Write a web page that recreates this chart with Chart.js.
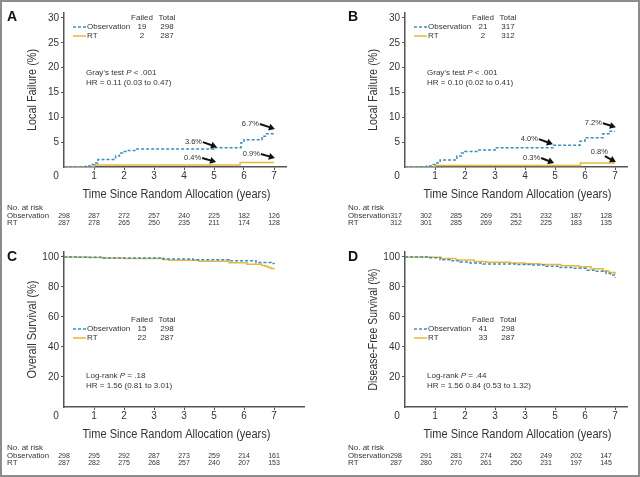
<!DOCTYPE html>
<html>
<head>
<meta charset="utf-8">
<script src="https://cdn.jsdelivr.net/npm/chart.js@4.4.0/dist/chart.umd.min.js"></script>
<style>
html, body { margin: 0; padding: 0; background: #fff; overflow: hidden; }
#frame { position: absolute; left: 0; top: 0; width: 636px; height: 473px; border: 2px solid #8c8c8c; }
.panel { position: absolute; width: 320px; height: 240px; }
</style>
</head>
<body>
<div id="frame"></div>
<div class="panel" style="left:0;top:0"><canvas id="chartA" width="320" height="240"></canvas></div>
<div class="panel" style="left:320px;top:0"><canvas id="chartB" width="320" height="240"></canvas></div>
<div class="panel" style="left:0;top:240px"><canvas id="chartC" width="320" height="240"></canvas></div>
<div class="panel" style="left:320px;top:240px"><canvas id="chartD" width="320" height="240"></canvas></div>
<script>
// 字型與顏色
const FONT = "'Liberation Sans', Arial, sans-serif";
const OBS_COLOR = '#3a8fbe';
const RT_COLOR = '#e8b83c';
const TEXT = '#333';
const AXIS = '#555';

// 共用刻度
const xTickValues = [1, 2, 3, 4, 5, 6, 7];
const xTickLabelsAB = ['1', '2', '3', '4', '5', '6', '7'];
const xTickLabelsCD = ['1', '2', '3', '3', '5', '6', '7'];
const yTicksFailure = [5, 10, 15, 20, 25, 30];
const yTicksSurvival = [20, 40, 60, 80, 100];
const riskYears = [0, 1, 2, 3, 4, 5, 6, 7];
const seriesNames = ['Observation', 'RT'];

// A: Local Failure
const obsTimesA = [0, 0.73, 0.9, 1.0, 1.13, 1.72, 1.85, 1.95, 2.1, 2.4, 5.0, 5.9, 6.0, 6.6, 6.75, 7.0];
const obsValuesA = [0, 0.2, 0.5, 0.8, 1.5, 2.2, 2.8, 3.1, 3.3, 3.6, 3.9, 4.9, 5.5, 6.2, 6.7, 6.7];
const rtTimesA = [0, 1.0, 5.87, 7.0];
const rtValuesA = [0, 0.4, 0.9, 0.9];
const failedA = [19, 2];
const totalA = [298, 287];
const riskObsA = [298, 287, 272, 257, 240, 225, 182, 126];
const riskRtA = [287, 278, 265, 250, 235, 211, 174, 128];
const annoLabelsA = ['3.6%', '0.4%', '6.7%', '0.9%'];
const annoTipXA = [5.1, 5.07, 7.03, 7.03];
const annoTipYA = [4.0, 1.0, 7.65, 1.8];

// B: Local Failure
const obsTimesB = [0, 0.73, 0.9, 1.0, 1.17, 1.73, 1.88, 2.0, 2.43, 3.0, 4.93, 5.83, 6.0, 6.6, 6.8, 7.0];
const obsValuesB = [0, 0.2, 0.5, 0.8, 1.4, 2.2, 2.8, 3.1, 3.4, 3.9, 4.4, 5.2, 5.9, 6.7, 7.2, 7.2];
const rtTimesB = [0, 1.0, 5.85, 7.0];
const rtValuesB = [0, 0.3, 0.8, 0.8];
const failedB = [21, 2];
const totalB = [317, 312];
const riskObsB = [317, 302, 285, 269, 251, 232, 187, 128];
const riskRtB = [312, 301, 285, 269, 252, 225, 183, 135];
const annoLabelsB = ['4.0%', '0.3%', '7.2%', '0.8%'];
const annoTipXB = [4.93, 4.97, 7.03, 7.03];
const annoTipYB = [4.6, 0.8, 8.0, 1.0];

// C: Overall Survival
const obsTimesC = [0, 0.5, 1.3, 3.3, 4.3, 5.5, 6.4, 6.9, 7.0];
const obsValuesC = [100, 99.8, 99.3, 98.7, 98.2, 97.4, 96.3, 95.6, 95.3];
const rtTimesC = [0, 0.8, 1.3, 2.0, 3.3, 3.5, 4.5, 5.5, 6.1, 6.6, 6.7, 6.8, 6.9, 7.0];
const rtValuesC = [100, 99.7, 99.3, 98.9, 98.3, 97.8, 97.1, 96.2, 95.2, 94.3, 93.8, 93.0, 92.3, 91.8];
const failedC = [15, 22];
const totalC = [298, 287];
const riskObsC = [298, 295, 292, 287, 273, 259, 214, 161];
const riskRtC = [287, 282, 275, 268, 257, 240, 207, 153];

// D: Disease-Free Survival
const obsTimesD = [0, 0.77, 1.17, 1.5, 1.83, 2.17, 2.6, 3.7, 4.17, 4.7, 5.17, 5.6, 6.07, 6.3, 6.7, 6.85, 7.0];
const obsValuesD = [100, 99.5, 98.2, 97.5, 96.6, 96.0, 95.3, 95.0, 94.6, 93.8, 92.9, 92.4, 91.2, 90.4, 89.0, 88.0, 86.2];
const rtTimesD = [0, 0.9, 1.2, 1.7, 2.3, 2.7, 3.5, 4.0, 4.5, 5.2, 5.8, 6.2, 6.6, 6.8, 7.0];
const rtValuesD = [100, 99.8, 99.0, 97.9, 97.0, 96.4, 96.0, 95.5, 95.0, 94.1, 93.5, 92.1, 90.6, 89.6, 88.4];
const failedD = [41, 33];
const totalD = [298, 287];
const riskObsD = [298, 291, 281, 274, 262, 249, 202, 147];
const riskRtD = [287, 280, 270, 261, 250, 231, 197, 145];

function toPoints(times, values) {
  return times.map((t, i) => ({ x: t, y: values[i] }));
}

// 窄體字：水平壓縮到指定寬度
function fitText(c, txt, x, y, width) {
  const w = c.measureText(txt).width;
  const sx = Math.min(1, width / w);
  c.save();
  c.translate(x, y);
  c.scale(sx, 1);
  c.fillText(txt, 0, 0);
  c.restore();
}

// 文字含斜體 P
function drawRich(c, parts, x, y, size) {
  let cx = x;
  parts.forEach(([txt, italic]) => {
    c.font = (italic ? 'italic ' : '') + size + 'px ' + FONT;
    c.fillText(txt, cx, y);
    cx += c.measureText(txt).width;
  });
}

function drawArrow(c, x1, y1, x2, y2) {
  const ang = Math.atan2(y2 - y1, x2 - x1);
  const head = 6;
  c.strokeStyle = '#111';
  c.fillStyle = '#111';
  c.lineWidth = 2;
  c.beginPath();
  c.moveTo(x1, y1);
  c.lineTo(x2 - head * 0.7 * Math.cos(ang), y2 - head * 0.7 * Math.sin(ang));
  c.stroke();
  c.beginPath();
  c.moveTo(x2, y2);
  c.lineTo(x2 - head * Math.cos(ang) + 3.5 * Math.sin(ang), y2 - head * Math.sin(ang) - 3.5 * Math.cos(ang));
  c.lineTo(x2 - head * Math.cos(ang) - 3.5 * Math.sin(ang), y2 - head * Math.sin(ang) + 3.5 * Math.cos(ang));
  c.closePath();
  c.fill();
}

function decorPlugin(p) {
  return {
    id: 'decor' + p.letter,
    afterDraw(chart) {
      const c = chart.ctx;
      const xs = chart.scales.x, ys = chart.scales.y, area = chart.chartArea;
      const L = area.left;
      c.save();

      // 面板字母
      c.fillStyle = '#111';
      c.font = 'bold 14px ' + FONT;
      c.textAlign = 'left';
      c.textBaseline = 'alphabetic';
      c.fillText(p.letter, L - 57, 21);

      // Y 軸標題
      c.save();
      c.translate(L - 31, (area.top + area.bottom) / 2);
      c.rotate(-Math.PI / 2);
      c.fillStyle = TEXT;
      c.font = '12.5px ' + FONT;
      c.textAlign = 'center';
      c.textBaseline = 'middle';
      fitText(c, p.yTitle, 0, 0, p.yTitleWidth);
      c.restore();

      // X 軸標題
      c.fillStyle = TEXT;
      c.font = '12.5px ' + FONT;
      c.textAlign = 'center';
      c.textBaseline = 'middle';
      fitText(c, 'Time Since Random Allocation (years)', xs.getPixelForValue(3.75), 195, 188);

      // 原點 0
      c.font = '10px ' + FONT;
      c.fillText('0', L - 8, area.bottom + 9);

      // 圖例
      const ly = p.legendY;
      c.font = '8px ' + FONT;
      c.textAlign = 'center';
      c.fillText('Failed', L + 78, ly);
      c.fillText('Total', L + 103, ly);
      p.failed.forEach((f, i) => {
        const ry = ly + 9 * (i + 1);
        c.textAlign = 'center';
        c.fillStyle = TEXT;
        c.fillText(String(f), L + 78, ry);
        c.fillText(String(p.total[i]), L + 103, ry);
        c.textAlign = 'left';
        c.fillText(seriesNames[i], L + 23, ry);
        c.beginPath();
        c.strokeStyle = i === 0 ? OBS_COLOR : RT_COLOR;
        c.lineWidth = 1.5;
        c.setLineDash(i === 0 ? [3, 2] : []);
        c.moveTo(L + 9, ry);
        c.lineTo(L + 22, ry);
        c.stroke();
        c.setLineDash([]);
      });

      // 統計文字
      c.fillStyle = TEXT;
      c.textAlign = 'left';
      drawRich(c, p.stat1, L + 22, p.statY, 8);
      drawRich(c, [[p.stat2, false]], L + 22, p.statY + 10, 8);

      // 百分比箭頭
      (p.annoLabels || []).forEach((lab, i) => {
        const tx = xs.getPixelForValue(p.annoX[i]);
        const ty = ys.getPixelForValue(p.annoY[i]);
        const off = p.annoOff[i];
        const sx = tx + off[0], sy = ty + off[1];
        drawArrow(c, sx, sy, tx, ty);
        c.fillStyle = TEXT;
        c.font = '7.5px ' + FONT;
        c.textBaseline = 'middle';
        c.textAlign = 'right';
        if (off[2] === 'above') {
          c.fillText(lab, sx + 3, sy - 4);
        } else {
          c.fillText(lab, sx - 1, sy);
        }
      });

      // 風險人數表
      c.fillStyle = TEXT;
      c.textBaseline = 'middle';
      c.textAlign = 'left';
      c.font = '8px ' + FONT;
      c.fillText('No. at risk', L - 57, 208);
      fitText(c, 'Observation', L - 57, 216, 42);
      c.fillText('RT', L - 57, 223);
      c.textAlign = 'center';
      c.font = '7px ' + FONT;
      riskYears.forEach((yr, i) => {
        const x = xs.getPixelForValue(yr) + p.tableShift;
        c.fillText(String(p.riskObs[i]), x, 216);
        c.fillText(String(p.riskRt[i]), x, 223);
      });

      c.restore();
    }
  };
}

function makePanel(id, p) {
  new Chart(document.getElementById(id), {
    type: 'line',
    data: {
      datasets: [
        {
          label: 'Observation',
          data: toPoints(p.obsT, p.obsV),
          borderColor: OBS_COLOR,
          borderWidth: 1.5,
          borderDash: [3, 2],
          stepped: true,
          pointRadius: 0,
          fill: false
        },
        {
          label: 'RT',
          data: toPoints(p.rtT, p.rtV),
          borderColor: RT_COLOR,
          borderWidth: 1.5,
          stepped: true,
          pointRadius: 0,
          fill: false
        }
      ]
    },
    options: {
      responsive: false,
      animation: false,
      layout: { padding: { left: 0, right: 320 - p.left - p.xMax * 30, top: p.top, bottom: 0 } },
      plugins: { legend: { display: false }, tooltip: { enabled: false } },
      scales: {
        x: {
          type: 'linear',
          min: 0,
          max: p.xMax,
          afterBuildTicks: s => { s.ticks = xTickValues.map(v => ({ value: v })); },
          afterFit: s => { s.height = 73; },
          ticks: {
            callback: (v, i) => p.xLabels[i],
            font: { size: 10, family: FONT },
            color: TEXT,
            padding: 0,
            maxRotation: 0,
            autoSkip: false
          },
          grid: { drawOnChartArea: false, drawTicks: true, tickLength: 3, color: AXIS, lineWidth: 1 },
          border: { display: true, color: AXIS, width: 1.5 }
        },
        y: {
          min: 0,
          max: p.yMax,
          afterBuildTicks: s => { s.ticks = p.yTicks.map(v => ({ value: v })); },
          afterFit: s => { s.width = p.left; },
          ticks: {
            font: { size: 10, family: FONT },
            color: TEXT,
            padding: 2
          },
          grid: { drawOnChartArea: false, drawTicks: true, tickLength: 3, color: AXIS, lineWidth: 1 },
          border: { display: true, color: AXIS, width: 1.5 }
        }
      }
    },
    plugins: [decorPlugin(p)]
  });
}

const arrowOff = [[-14, -5], [-14, -4], [-15, -5], [-14, -4]];

makePanel('chartA', {
  letter: 'A', left: 64, top: 13, xMax: 7.4, yMax: 31, yTicks: yTicksFailure, xLabels: xTickLabelsAB,
  yTitle: 'Local Failure (%)', yTitleWidth: 82,
  obsT: obsTimesA, obsV: obsValuesA, rtT: rtTimesA, rtV: rtValuesA,
  failed: failedA, total: totalA, legendY: 18,
  stat1: [['Gray\u2019s test ', false], ['P', true], [' < .001', false]],
  stat2: 'HR = 0.11 (0.03 to 0.47)', statY: 73,
  annoLabels: annoLabelsA, annoX: annoTipXA, annoY: annoTipYA, annoOff: arrowOff,
  riskObs: riskObsA, riskRt: riskRtA, tableShift: 0
});

makePanel('chartB', {
  letter: 'B', left: 85, top: 13, xMax: 7.4, yMax: 31, yTicks: yTicksFailure, xLabels: xTickLabelsAB,
  yTitle: 'Local Failure (%)', yTitleWidth: 82,
  obsT: obsTimesB, obsV: obsValuesB, rtT: rtTimesB, rtV: rtValuesB,
  failed: failedB, total: totalB, legendY: 18,
  stat1: [['Gray\u2019s test ', false], ['P', true], [' < .001', false]],
  stat2: 'HR = 0.10 (0.02 to 0.41)', statY: 73,
  annoLabels: annoLabelsB, annoX: annoTipXB, annoY: annoTipYB,
  annoOff: [[-14, -5], [-13, -5], [-13, -4], [-11, -6, 'above']],
  riskObs: riskObsB, riskRt: riskRtB, tableShift: -9
});

makePanel('chartC', {
  letter: 'C', left: 64, top: 12, xMax: 8, yMax: 103.3, yTicks: yTicksSurvival, xLabels: xTickLabelsCD,
  yTitle: 'Overall Survival (%)', yTitleWidth: 98,
  obsT: obsTimesC, obsV: obsValuesC, rtT: rtTimesC, rtV: rtValuesC,
  failed: failedC, total: totalC, legendY: 80,
  stat1: [['Log-rank ', false], ['P', true], [' = .18', false]],
  stat2: 'HR = 1.56 (0.81 to 3.01)', statY: 136,
  riskObs: riskObsC, riskRt: riskRtC, tableShift: 0
});

makePanel('chartD', {
  letter: 'D', left: 85, top: 12, xMax: 7.4, yMax: 103.3, yTicks: yTicksSurvival, xLabels: xTickLabelsCD,
  yTitle: 'Disease-Free Survival (%)', yTitleWidth: 122,
  obsT: obsTimesD, obsV: obsValuesD, rtT: rtTimesD, rtV: rtValuesD,
  failed: failedD, total: totalD, legendY: 80,
  stat1: [['Log-rank ', false], ['P', true], [' = .44', false]],
  stat2: 'HR = 1.56 0.84 (0.53 to 1.32)', statY: 136,
  riskObs: riskObsD, riskRt: riskRtD, tableShift: -9
});
</script>
</body>
</html>
